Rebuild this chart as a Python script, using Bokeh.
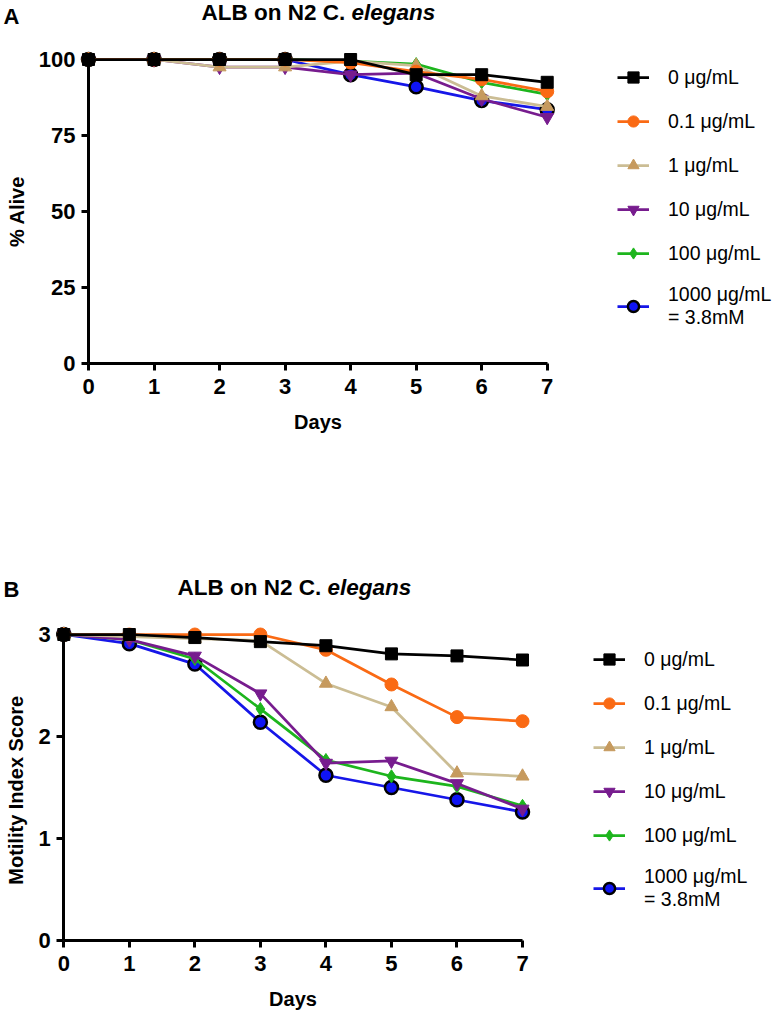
from bokeh.plotting import figure
from bokeh.models import Range1d, FixedTicker, Legend, LegendItem, Label
from bokeh.layouts import column
from bokeh.embed import file_html
from bokeh.resources import INLINE

FONT = "Liberation Sans"

days = [0, 1, 2, 3, 4, 5, 6, 7]
series_labels = ["0 μg/mL", "0.1 μg/mL", "1 μg/mL", "10 μg/mL", "100 μg/mL",
                 "1000 μg/mL\n= 3.8mM"]

# Panel A: % alive
alive_0 = [100, 100, 100, 100, 100, 95, 95, 92.5]
alive_01 = [100, 100, 100, 100, 99, 96, 93.5, 89.5]
alive_1 = [100, 100, 97.5, 97.5, 99.5, 98, 88, 84.5]
alive_10 = [100, 100, 97.5, 97.5, 95, 95.5, 87, 81]
alive_100 = [100, 100, 100, 100, 99.5, 98.5, 92.5, 88.5]
alive_1000 = [100, 100, 100, 100, 95, 91, 86.5, 83.5]

# Panel B: motility index score
mot_0 = [3, 3, 2.97, 2.93, 2.89, 2.81, 2.79, 2.75]
mot_01 = [3, 3, 3, 3, 2.85, 2.51, 2.19, 2.15]
mot_1 = [3, 2.98, 2.96, 2.94, 2.52, 2.29, 1.64, 1.61]
mot_10 = [3, 2.95, 2.79, 2.42, 1.74, 1.76, 1.54, 1.29]
mot_100 = [3, 2.95, 2.76, 2.27, 1.77, 1.61, 1.51, 1.32]
mot_1000 = [3, 2.91, 2.71, 2.14, 1.62, 1.50, 1.38, 1.26]

alive_ticks = [0, 25, 50, 75, 100]
mot_ticks = [0, 1, 2, 3]
day_ticks = days

styles = [
    dict(line="#000000", marker="square", fill="#000000", edge="#000000", size=12, ew=1),
    dict(line="#FA6A14", marker="circle", fill="#FA6A14", edge="#FA6A14", size=13, ew=1),
    dict(line="#CBBD94", marker="triangle", fill="#C69A5E", edge="#C69A5E", size=13, ew=1),
    dict(line="#771C8E", marker="inverted_triangle", fill="#771C8E", edge="#771C8E", size=13, ew=1),
    dict(line="#1DB51D", marker="diamond", fill="#1DB51D", edge="#1DB51D", size=13, ew=1),
    dict(line="#1616E8", marker="circle", fill="#0F14F5", edge="#000000", size=13, ew=2.5),
]

W = 779


def make_panel(series, yticks, ybounds, ylabel, letter, geo):
    # the frame fills the whole figure; axes sit at x=0 / y=0 inside it
    H = geo["H"]
    xs, x0 = geo["xs"], geo["x0"]
    ys, y0 = geo["ys"], geo["y0"]
    p = figure(width=W, height=H,
               min_border_left=0, min_border_right=0, min_border_top=0, min_border_bottom=0,
               x_range=Range1d(-x0 / xs, (W - x0) / xs),
               y_range=Range1d(-(H - y0) / ys, y0 / ys),
               output_backend="svg", toolbar_location=None)
    p.outline_line_color = None
    p.grid.visible = False
    p.background_fill_color = "white"
    p.border_fill_color = "white"

    for ax in (p.xaxis[0], p.yaxis[0]):
        ax.axis_line_width = 3
        ax.major_tick_line_width = 3
        ax.major_tick_out = 7
        ax.major_tick_in = 0
        ax.minor_tick_line_color = None
        ax.major_label_text_font = FONT
        ax.major_label_text_font_style = "bold"
        ax.major_label_text_font_size = "22px"
        ax.major_label_text_color = "black"
        ax.axis_label_text_font = FONT
        ax.axis_label_text_font_style = "bold"
        ax.axis_label_text_font_size = "20px"
        ax.axis_label_text_color = "black"
    p.xaxis.ticker = FixedTicker(ticks=day_ticks)
    p.xaxis.bounds = (0, 7)
    p.xaxis.fixed_location = 0
    p.xaxis.axis_label = "Days"
    p.xaxis.major_label_standoff = 8
    p.xaxis.axis_label_standoff = 14
    p.yaxis.ticker = FixedTicker(ticks=yticks)
    p.yaxis.bounds = ybounds
    p.yaxis.fixed_location = 0
    p.yaxis.axis_label = ylabel
    p.yaxis.major_label_standoff = 6
    p.yaxis.axis_label_standoff = 8

    renderers = []
    for vals, st in zip(series, styles):
        lr = p.line(days, vals, line_color=st["line"], line_width=2.75)
        sr = p.scatter(days, vals, marker=st["marker"], size=st["size"],
                       fill_color=st["fill"], line_color=st["edge"], line_width=st["ew"])
        renderers.append((lr, sr))
    # draw order: last series at bottom, first (0 μg/mL) on top
    p.renderers = [r for pair in reversed(renderers) for r in pair]

    items = [LegendItem(label=lab, renderers=[lr, sr])
             for lab, (lr, sr) in zip(series_labels, renderers)]
    leg = Legend(items=items, location=(geo["lx"], geo["ly"]))
    leg.padding = 0
    leg.margin = 0
    leg.border_line_color = None
    leg.background_fill_alpha = 0
    leg.glyph_width = 32
    leg.glyph_height = 28
    leg.label_height = 28
    leg.spacing = 16
    leg.label_standoff = 19
    leg.label_text_font = FONT
    leg.label_text_font_size = "19.5px"
    leg.label_text_color = "black"
    p.add_layout(leg)

    p.add_layout(Label(x=geo["letter_x"], y=geo["letter_y"], text=letter,
                       text_font=FONT, text_font_style="bold", text_font_size="22px",
                       text_color="black",
                       text_baseline="alphabetic", text_align="left"))
    p.add_layout(Label(x=geo["t1_x"], y=geo["title_y"], text="ALB on N2 C.",
                       text_font=FONT, text_font_style="bold", text_font_size="22.5px",
                       text_color="black",
                       text_baseline="alphabetic", text_align="right"))
    p.add_layout(Label(x=geo["t2_x"], y=geo["title_y"], text="elegans",
                       text_font=FONT, text_font_style="bold italic", text_font_size="22.5px",
                       text_color="black",
                       text_baseline="alphabetic", text_align="left"))
    return p


pA = make_panel([alive_0, alive_01, alive_1, alive_10, alive_100, alive_1000],
                alive_ticks, (0, 100), "% Alive", "A",
                dict(H=470, xs=65.53, x0=88, ys=3.04, y0=363, lx=617, ly=141,
                     letter_x=-1.297, letter_y=114.3, title_y=115.4, t1_x=3.917, t2_x=4.013))
pB = make_panel([mot_0, mot_01, mot_1, mot_10, mot_100, mot_1000],
                mot_ticks, (0, 3), "Motility  Index Score", "B",
                dict(H=542, xs=65.53, x0=63.3, ys=102, y0=470, lx=593, ly=101,
                     letter_x=-0.92, letter_y=3.441, title_y=3.461, t1_x=3.928, t2_x=4.025))

layout = column(pA, pB, spacing=0)
open("out.html", "w").write(file_html(layout, INLINE))
